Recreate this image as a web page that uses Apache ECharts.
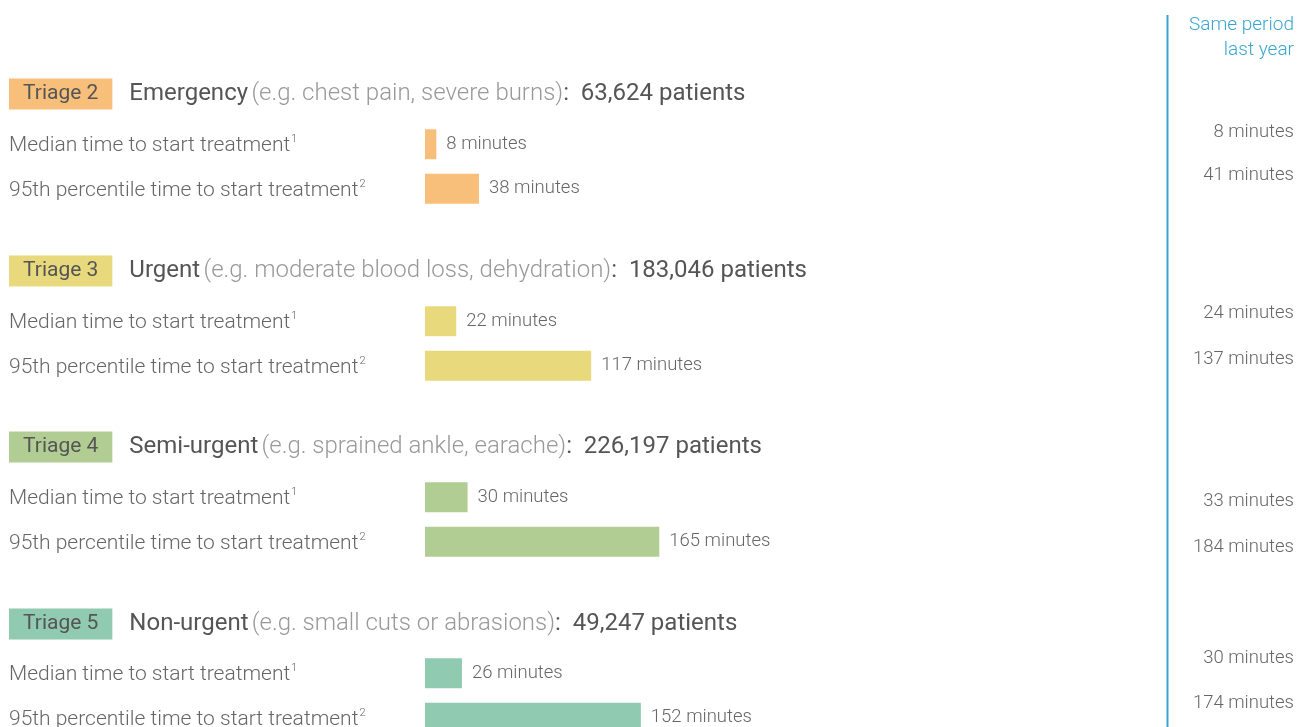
<!DOCTYPE html>
<html>
<head>
<meta charset="utf-8">
<script src="https://cdn.jsdelivr.net/npm/echarts@6/dist/echarts.min.js"></script>
<style>
  html, body { margin: 0; padding: 0; background: #fff; }
  #chart { width: 1308px; height: 727px; }
</style>
</head>
<body>
<div id="chart"></div>
<script>
// data
const triageLabels = ['Triage 2', 'Triage 3', 'Triage 4', 'Triage 5'];
const triageNames = ['Emergency', 'Urgent', 'Semi-urgent', 'Non-urgent'];
const triageExamples = [
  '(e.g. chest pain, severe burns)',
  '(e.g. moderate blood loss, dehydration)',
  '(e.g. sprained ankle, earache)',
  '(e.g. small cuts or abrasions)'
];
const patients = ['63,624', '183,046', '226,197', '49,247'];
const rowLabels = ['Median time to start treatment', '95th percentile time to start treatment'];
const rowNotes = ['1', '2'];
const medianMinutes = [8, 22, 30, 26];
const p95Minutes = [38, 117, 165, 152];
const lastYearMedian = [8, 24, 33, 30];
const lastYearP95 = [41, 137, 184, 174];

const colors = ['#f8bf7b', '#e8d97d', '#b2cd93', '#90cab0'];

// layout
const groupTop = [122, 299, 475, 651];
const headerY = [94, 271, 447, 624];
const lastYearY = [[132, 175], [313, 359], [501, 547], [658, 703]];
const FONT = 'Roboto, "Liberation Sans", sans-serif';

const chart = echarts.init(document.getElementById('chart'));

const grids = [], xAxes = [], yAxes = [], series = [], graphics = [];

triageLabels.forEach((t, i) => {
  grids.push({ left: 425, width: 710, top: groupTop[i], height: 89, outerBoundsMode: 'none' });
  xAxes.push({ type: 'value', gridIndex: i, min: 0, max: 500, show: false });
  yAxes.push({
    type: 'category', gridIndex: i, data: rowLabels, inverse: true,
    axisLine: { show: false }, axisTick: { show: false },
    axisLabel: {
      align: 'left', margin: 416, padding: [3, 0, 0, 0],
      formatter: (v, idx) => '{t|' + v + '}{s|' + rowNotes[idx] + '}',
      rich: {
        t: { color: '#666', fontSize: 21, fontFamily: FONT, fontWeight: 300, lineHeight: 24 },
        s: { color: '#666', fontSize: 11, fontFamily: FONT, fontWeight: 300, verticalAlign: 'top',
             lineHeight: 24, padding: [0, 0, 0, 1] }
      }
    }
  });
  series.push({
    type: 'bar', xAxisIndex: i, yAxisIndex: i, barWidth: 30,
    data: [medianMinutes[i], p95Minutes[i]],
    itemStyle: { color: colors[i] },
    label: {
      show: true, position: 'right', distance: 10, formatter: '{c} minutes',
      color: '#666', fontSize: 18.5, fontFamily: FONT, fontWeight: 300
    },
    silent: true
  });

  graphics.push({
    type: 'text', x: 9, y: headerY[i],
    style: {
      text: '{box|' + t + '}{sp|}{b|' + triageNames[i] + '} {l|' + triageExamples[i] + '}{b|:  ' + patients[i] + ' patients}',
      verticalAlign: 'middle',
      rich: {
        box: { backgroundColor: colors[i], padding: [5, 14, 5, 14], fontSize: 21, fill: '#555',
               fontFamily: FONT, fontWeight: 400, lineHeight: 21 },
        sp: { width: 17 },
        b: { fontSize: 24, fill: '#555', fontFamily: FONT, fontWeight: 400 },
        l: { fontSize: 24, fill: '#999', fontFamily: FONT, fontWeight: 300 }
      }
    }
  });

  [lastYearMedian[i], lastYearP95[i]].forEach((v, k) => {
    graphics.push({
      type: 'text', x: 1294, y: lastYearY[i][k],
      style: { text: v + ' minutes', align: 'right', verticalAlign: 'middle', fontSize: 18.5,
               fill: '#666', fontFamily: FONT, fontWeight: 300 }
    });
  });
});

graphics.push({
  type: 'line', shape: { x1: 1167.5, y1: 15, x2: 1167.5, y2: 727 },
  style: { stroke: '#3aa3cf', lineWidth: 2 }
});
['Same period', 'last year'].forEach((s, k) => {
  graphics.push({
    type: 'text', x: 1294, y: 25 + k * 25,
    style: { text: s, align: 'right', verticalAlign: 'middle', fontSize: 19,
             fill: '#3aa6d0', fontFamily: FONT, fontWeight: 300 }
  });
});

chart.setOption({
  animation: false,
  grid: grids,
  xAxis: xAxes,
  yAxis: yAxes,
  series: series,
  graphic: graphics
});
</script>
</body>
</html>
